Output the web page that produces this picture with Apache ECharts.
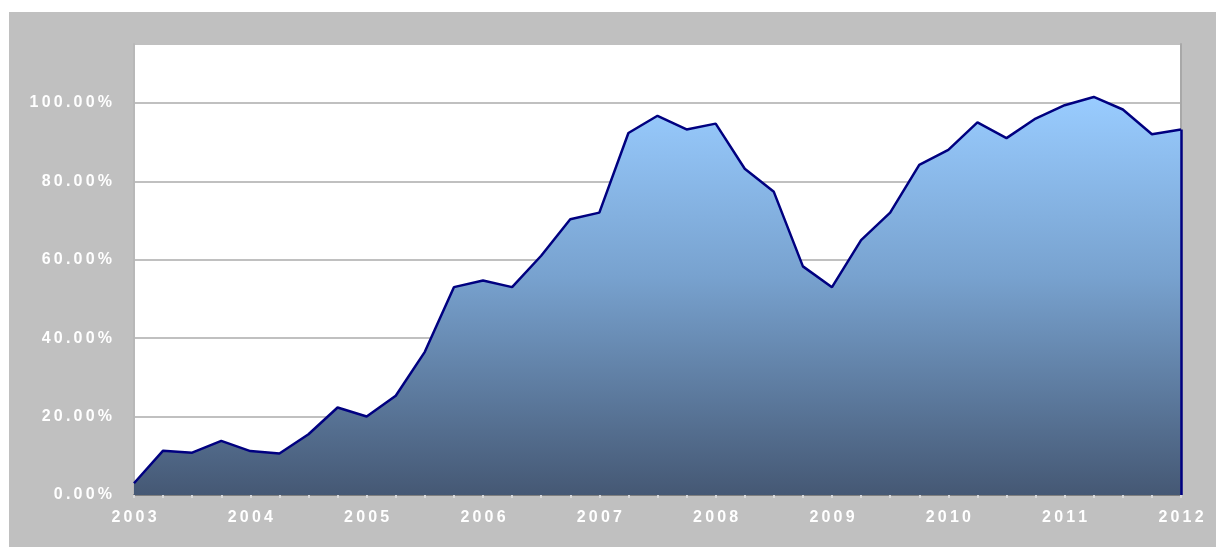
<!DOCTYPE html>
<html>
<head>
<meta charset="utf-8">
<script src="https://cdn.jsdelivr.net/npm/echarts@6/dist/echarts.min.js"></script>
<style>
html,body{margin:0;padding:0;background:#fff;}
#bg{position:absolute;left:9px;top:12px;width:1207px;height:535px;background:#c0c0c0;}
#chart{position:absolute;left:0;top:0;width:1216px;height:547px;}
</style>
</head>
<body>
<div id="bg"></div>
<div id="chart"></div>
<script>
const years = ['2003','2004','2005','2006','2007','2008','2009','2010','2011','2012'];
const quarters = ['Q1','Q2','Q3','Q4'];
const categories = [];
years.forEach((y, i) => {
  if (i < years.length - 1) quarters.forEach(q => categories.push(y + '-' + q));
  else categories.push(y + '-Q1');
});
const values = [
  3.0, 11.3, 10.8, 13.8,
  11.2, 10.6, 15.5, 22.3,
  20.0, 25.3, 36.5, 53.0,
  54.7, 53.0, 61.0, 70.3,
  72.0, 92.3, 96.7, 93.2,
  94.7, 83.2, 77.3, 58.3,
  53.0, 65.0, 72.0, 84.2,
  88.0, 95.0, 91.0, 96.0,
  99.4, 101.5, 98.3, 92.0,
  93.2
];
const yTicks = [0, 20, 40, 60, 80, 100];

const spaced = s => s.split('').join('\u2009');
const labelFont = { color: '#ffffff', fontFamily: 'Liberation Sans, Arial, sans-serif', fontWeight: 'bold', fontSize: 16 };

const chart = echarts.init(document.getElementById('chart'), null, { renderer: 'canvas' });
chart.setOption({
  animation: false,
  grid: { left: 134, right: 35, top: 44, bottom: 52, show: true, backgroundColor: '#ffffff', borderWidth: 0 },
  xAxis: [{
    type: 'category',
    data: categories,
    boundaryGap: false,
    axisLine: { lineStyle: { color: '#9a9acc', width: 2 } },
    axisTick: { show: true, interval: 0, length: 3, lineStyle: { color: '#d8d8d8', width: 2 } },
    axisLabel: Object.assign({
      interval: 0,
      margin: 15,
      formatter: v => v.endsWith('Q1') ? spaced(v.slice(0, 4)) : ''
    }, labelFont),
    splitLine: { show: false },
    splitArea: { show: false }
  }, {
    type: 'category',
    data: categories,
    position: 'top',
    boundaryGap: false,
    axisLine: { show: true, lineStyle: { color: '#808080', width: 2 } },
    axisTick: { show: false },
    axisLabel: { show: false },
    splitLine: { show: false },
    splitArea: { show: false }
  }],
  yAxis: [{
    type: 'value',
    min: 0,
    max: 115,
    interval: 20,
    axisLine: { show: true, lineStyle: { color: '#b8b8b8', width: 2 } },
    axisTick: { show: false },
    axisLabel: Object.assign({
      margin: 22,
      showMaxLabel: false,
      formatter: v => yTicks.indexOf(v) >= 0 ? spaced(v.toFixed(2) + '%') : ''
    }, labelFont),
    splitLine: { show: true, lineStyle: { color: '#c0c0c0', width: 2 } }
  }, {
    type: 'value',
    position: 'right',
    min: 0,
    max: 115,
    interval: 20,
    axisLine: { show: true, lineStyle: { color: '#a8a8a8', width: 2 } },
    axisTick: { show: false },
    axisLabel: { show: false },
    splitLine: { show: false }
  }],
  series: [{
    type: 'line',
    data: values,
    symbol: 'none',
    lineStyle: { color: '#000080', width: 2.5 },
    areaStyle: {
      opacity: 1,
      color: {
        type: 'linear', x: 0, y: 0, x2: 0, y2: 1,
        colorStops: [
          { offset: 0, color: '#99ccff' },
          { offset: 0.45, color: '#78a2cf' },
          { offset: 1, color: '#455874' }
        ]
      }
    },
    markLine: {
      silent: true,
      symbol: 'none',
      label: { show: false },
      lineStyle: { color: '#000080', width: 2.5, type: 'solid' },
      data: [[
        { coord: [categories[categories.length - 1], 0] },
        { coord: [categories[categories.length - 1], values[values.length - 1]] }
      ]]
    }
  }]
});
</script>
</body>
</html>
